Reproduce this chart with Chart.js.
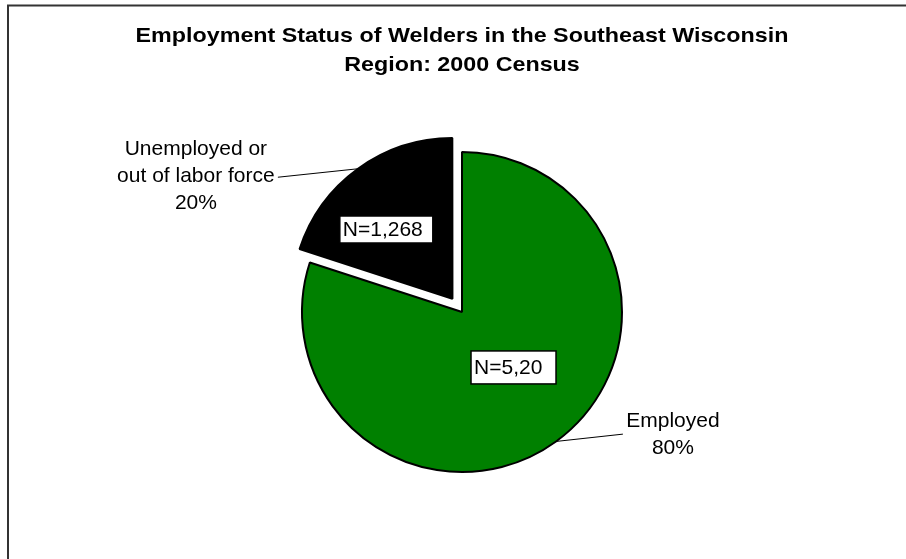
<!DOCTYPE html>
<html><head><meta charset="utf-8">
<script src="https://cdn.jsdelivr.net/npm/chart.js@4/dist/chart.umd.min.js"></script>
<style>html,body{margin:0;padding:0;background:#fff;} canvas{display:block;}</style>
</head><body>
<canvas id="c" width="906" height="559"></canvas>
<script>
const titleLines = ['Employment Status of Welders in the Southeast Wisconsin', 'Region: 2000 Census'];
const categories = ['Employed', 'Unemployed or out of labor force'];
const categoryLines = [['Employed'], ['Unemployed or', 'out of labor force']];
const percentValues = [80, 20];
const countLabels = ['N=5,20', 'N=1,268'];

const FONT = "'Liberation Sans', Arial, Helvetica, sans-serif";

function arcCenter(el) {
  const p = el.getProps(['x', 'y', 'startAngle', 'endAngle', 'outerRadius'], true);
  const o = (el.options.offset || 0) / 4;
  const mid = (p.startAngle + p.endAngle) / 2;
  const circ = p.endAngle - p.startAngle;
  const off = o * (2 - Math.sin(Math.min(Math.PI, circ)));
  return { x: p.x + Math.cos(mid) * off, y: p.y + Math.sin(mid) * off, mid: mid, r: p.outerRadius };
}

const framePlugin = {
  id: 'frame',
  beforeDraw(chart) {
    const ctx = chart.ctx;
    ctx.save();
    ctx.fillStyle = '#fff';
    ctx.fillRect(0, 0, chart.width, chart.height);
    ctx.strokeStyle = '#333';
    ctx.lineWidth = 2;
    ctx.strokeRect(8, 5.5, 1200, 1200);
    ctx.restore();
  }
};

const titlePlugin = {
  id: 'wideTitle',
  afterDraw(chart, args, opts) {
    const ctx = chart.ctx;
    const cx = (chart.chartArea.left + chart.chartArea.right) / 2;
    ctx.save();
    ctx.font = 'bold 21px ' + FONT;
    ctx.fillStyle = '#000';
    ctx.textAlign = 'center';
    ctx.textBaseline = 'middle';
    titleLines.forEach((t, k) => {
      ctx.save();
      ctx.translate(cx, opts.top + k * opts.lineHeight);
      ctx.scale(opts.scaleX, 1);
      ctx.fillText(t, 0, 0);
      ctx.restore();
    });
    ctx.restore();
  }
};

const labelPlugin = {
  id: 'sliceLabels',
  afterDatasetsDraw(chart, args, opts) {
    const ctx = chart.ctx;
    const meta = chart.getDatasetMeta(0);
    const D = Math.PI / 180;
    meta.data.forEach((el, i) => {
      const c = arcCenter(el);
      const L = opts.layout[i];
      ctx.save();
      // count box
      const a = c.mid + L.boxAngle * D;
      const bx = c.x + Math.cos(a) * c.r * L.boxRadius;
      const by = c.y + Math.sin(a) * c.r * L.boxRadius;
      ctx.fillStyle = '#fff';
      ctx.strokeStyle = '#000';
      ctx.lineWidth = 1.5;
      ctx.fillRect(bx - L.boxW / 2, by - L.boxH / 2, L.boxW, L.boxH);
      ctx.strokeRect(bx - L.boxW / 2, by - L.boxH / 2, L.boxW, L.boxH);
      ctx.font = '21px ' + FONT;
      ctx.textAlign = 'left';
      ctx.textBaseline = 'middle';
      ctx.fillStyle = '#000';
      ctx.fillText(countLabels[i], bx - L.boxW / 2 + 3, by + 1);
      // leader line
      const sx = c.x + Math.cos(c.mid) * c.r;
      const sy = c.y + Math.sin(c.mid) * c.r;
      const ea = c.mid + L.leadAngle * D;
      const ex = c.x + Math.cos(ea) * c.r * L.leadRadius;
      const ey = c.y + Math.sin(ea) * c.r * L.leadRadius;
      ctx.beginPath();
      ctx.moveTo(sx, sy);
      ctx.lineTo(ex, ey);
      ctx.lineWidth = 1;
      ctx.strokeStyle = '#000';
      ctx.stroke();
      // category label
      const lines = categoryLines[i].concat([percentValues[i] + '%']);
      ctx.textAlign = 'center';
      lines.forEach((t, k) => {
        ctx.fillText(t, ex + L.textDx, ey + L.textDy + k * 27);
      });
      ctx.restore();
    });
  }
};

new Chart(document.getElementById('c'), {
  type: 'pie',
  data: {
    labels: categories,
    datasets: [{
      data: percentValues,
      backgroundColor: ['#008000', '#000000'],
      borderColor: '#000000',
      borderWidth: 2,
      offset: [0, 65],
      hoverOffset: 0,
      radius: 160
    }]
  },
  options: {
    responsive: false,
    animation: false,
    devicePixelRatio: 1,
    events: [],
    layout: { padding: { top: 89, left: 18, right: 0, bottom: 24 } },
    plugins: {
      legend: { display: false },
      tooltip: { enabled: false },
      title: { display: false },
      wideTitle: { top: 36.5, lineHeight: 28.3, scaleX: 1.109 },
      sliceLabels: {
        layout: [
          { boxAngle: -6.9, boxRadius: 0.473, boxW: 85, boxH: 33, leadAngle: -16.8, leadRadius: 1.2625, textDx: 50, textDy: -13 },
          { boxAngle: -7.7, boxRadius: 0.594, boxW: 93, boxH: 27, leadAngle: -19.2, leadRadius: 1.325, textDx: -82, textDy: -28 }
        ]
      }
    }
  },
  plugins: [framePlugin, titlePlugin, labelPlugin]
});
</script>
</body></html>
